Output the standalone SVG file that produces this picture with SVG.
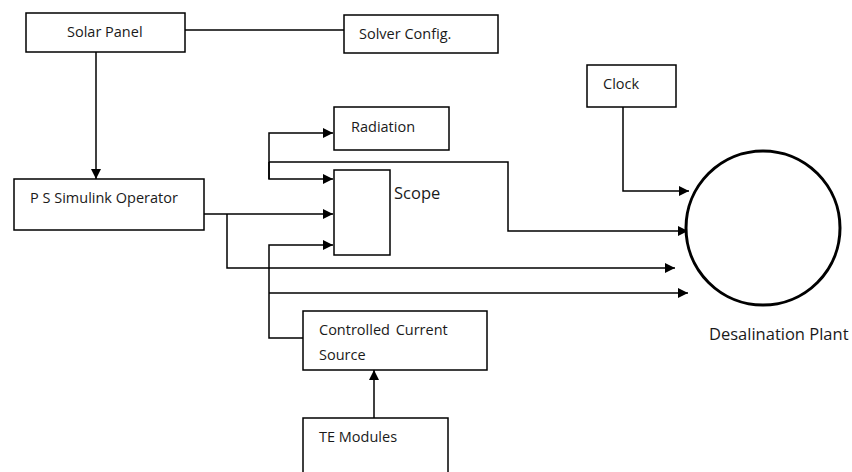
<svg xmlns="http://www.w3.org/2000/svg" width="852" height="472" viewBox="0 0 852 472">
<style>
.box{fill:#fff;stroke:#000;stroke-width:1.5}
.ln{fill:none;stroke:#000;stroke-width:1.5}
.t{font-family:"Open Sans",sans-serif;font-size:14.5px;fill:#1a1a1a}
.tl{font-family:"Open Sans",sans-serif;font-size:16.5px;fill:#1a1a1a}
</style>
<defs>
<marker id="ah" viewBox="0 0 10 10" refX="10" refY="5" markerWidth="10" markerHeight="10" markerUnits="userSpaceOnUse" orient="auto">
<path d="M0,0 L10,5 L0,10 Z" fill="#000"/>
</marker>
</defs>
<g id="connectors">
<path class="ln" d="M185,30 H344"/>
<path class="ln" d="M96,52 V179" marker-end="url(#ah)"/>
<path class="ln" d="M204,214 H333" marker-end="url(#ah)"/>
<path class="ln" d="M227,214 V268 H675" marker-end="url(#ah)"/>
<path class="ln" d="M269,179 V133 H333" marker-end="url(#ah)"/>
<path class="ln" d="M269,162 V179 H333" marker-end="url(#ah)"/>
<path class="ln" d="M269,162 H508 V231 H688" marker-end="url(#ah)"/>
<path class="ln" d="M303,338 H269 V245 H333" marker-end="url(#ah)"/>
<path class="ln" d="M269,293 H688" marker-end="url(#ah)"/>
<path class="ln" d="M623,107 V191 H689" marker-end="url(#ah)"/>
<path class="ln" d="M374,418 V370" marker-end="url(#ah)"/>
</g>
<g id="solar-panel">
<rect class="box" x="26" y="13" width="159" height="39"/>
<text class="t" x="67" y="37">Solar Panel</text>
</g>
<g id="solver-config">
<rect class="box" x="344" y="15" width="154" height="38"/>
<text class="t" x="359" y="39">Solver Config.</text>
</g>
<g id="ps-simulink-operator">
<rect class="box" x="14" y="179" width="190" height="51"/>
<text class="t" x="30" y="203">P S Simulink Operator</text>
</g>
<g id="radiation">
<rect class="box" x="334" y="107" width="115" height="43"/>
<text class="t" x="351" y="132">Radiation</text>
</g>
<g id="scope">
<rect class="box" x="334" y="170" width="56" height="85"/>
<text class="tl" x="394" y="199">Scope</text>
</g>
<g id="clock">
<rect class="box" x="587" y="65" width="89" height="42"/>
<text class="t" x="603" y="89">Clock</text>
</g>
<g id="desalination-plant">
<circle cx="763" cy="228" r="77" fill="#fff" stroke="#000" stroke-width="3"/>
<text class="tl" x="709" y="340">Desalination Plant</text>
</g>
<g id="controlled-current-source">
<rect class="box" x="303" y="311" width="184" height="59"/>
<text class="t" x="319" y="335" word-spacing="2">Controlled Current</text>
<text class="t" x="319" y="360">Source</text>
</g>
<g id="te-modules">
<rect class="box" x="303" y="418" width="145" height="60"/>
<text class="t" x="319" y="442">TE Modules</text>
</g>
</svg>
